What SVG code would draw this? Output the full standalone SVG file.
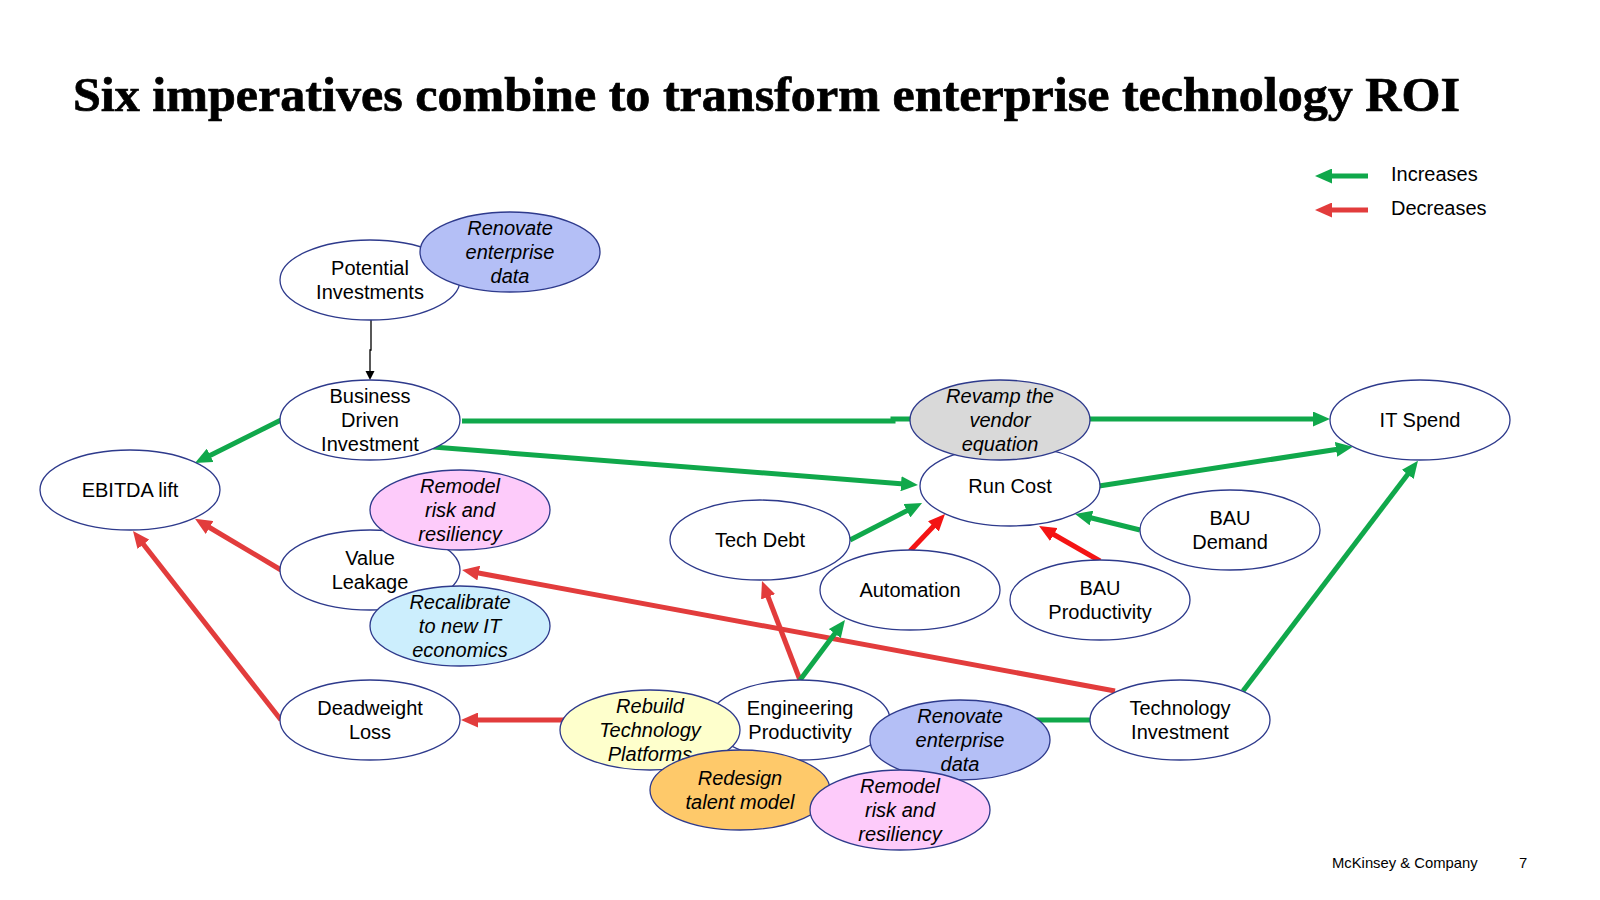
<svg xmlns="http://www.w3.org/2000/svg" width="1600" height="900" viewBox="0 0 1600 900">
<style>
.n{stroke:#2E3A8C;stroke-width:1.3;fill:#fff}
.t{font-family:"Liberation Sans",Arial,sans-serif;font-size:20px;fill:#000;text-anchor:middle}
.i{font-style:italic}
.g{stroke:#10A84B;stroke-width:5;fill:none;marker-end:url(#ag)}
.r{stroke:#E23C3C;stroke-width:5;fill:none;marker-end:url(#ar)}
.rb{stroke:#F41414;stroke-width:5;fill:none;marker-end:url(#arb)}
.blue{fill:#B4BFF6}.pink{fill:#FDCBFA}.lb{fill:#CCEEFD}.yel{fill:#FEFFCC}.org{fill:#FEC96A}.gray{fill:#D9D9D9}
</style>
<defs>
<marker id="ag" viewBox="0 0 17 15" refX="3" refY="7.5" markerUnits="userSpaceOnUse" markerWidth="17" markerHeight="15" orient="auto"><path d="M0,0 L17,7.5 L0,15 z" fill="#10A84B"/></marker>
<marker id="ar" viewBox="0 0 17 15" refX="3" refY="7.5" markerUnits="userSpaceOnUse" markerWidth="17" markerHeight="15" orient="auto"><path d="M0,0 L17,7.5 L0,15 z" fill="#E23C3C"/></marker>
<marker id="arb" viewBox="0 0 17 15" refX="3" refY="7.5" markerUnits="userSpaceOnUse" markerWidth="17" markerHeight="15" orient="auto"><path d="M0,0 L17,7.5 L0,15 z" fill="#F41414"/></marker>
<marker id="ak" viewBox="0 0 10 10" refX="0" refY="5" markerUnits="userSpaceOnUse" markerWidth="9" markerHeight="10" orient="auto"><path d="M0,0 L10,5 L0,10 z" fill="#000"/></marker>
</defs>
<rect width="1600" height="900" fill="#fff"/>
<text x="73" y="111" font-family="'Liberation Serif','Times New Roman',serif" font-weight="bold" font-size="49" stroke="#000" stroke-width="0.7" textLength="1387" lengthAdjust="spacingAndGlyphs">Six imperatives combine to transform enterprise technology ROI</text>

<g id="legend">
<path d="M1368,176 H1329" class="g"/>
<path d="M1368,210 H1329" class="r"/>
<text x="1391" y="181" class="t" style="text-anchor:start">Increases</text>
<text x="1391" y="215" class="t" style="text-anchor:start">Decreases</text>
</g>

<g id="connectors">
<path d="M371,320 V350 H370 V371" stroke="#000" stroke-width="1.3" fill="none" marker-end="url(#ak)"/>
<path d="M281,420 L207.5,456.7" class="g"/>
<path d="M462,421 H893 V419 H1316" class="g"/>
<path d="M433,447 L904,484" class="g"/>
<path d="M1099,486 L1339,449" class="g"/>
<path d="M850,540 L909.6,509.4" class="g"/>
<path d="M910,551 L935.4,524.2" class="rb"/>
<path d="M1100,561 L1051.2,533" class="rb"/>
<path d="M1140,530 L1088.6,517.3" class="g"/>
<path d="M1243,691 L1409.5,472" class="g"/>
<path d="M1115,691 L475.8,572.5" class="r"/>
<path d="M281,570 L207,526" class="r"/>
<path d="M281,720 L141.6,542" class="r"/>
<path d="M800,680 L767,594" class="r"/>
<path d="M800,680 L836.6,631.2" class="g"/>
<path d="M720,720 H475" class="r"/>
<path d="M1090,720 H904" class="g"/>
</g>

<g id="potential-investments"><ellipse class="n" cx="370" cy="280" rx="90" ry="40"/><text class="t" x="370" y="275">Potential</text><text class="t" x="370" y="299">Investments</text></g>
<g id="renovate-data-top"><ellipse class="n blue" cx="510" cy="252" rx="90" ry="40"/><text class="t i" x="510" y="235">Renovate</text><text class="t i" x="510" y="259">enterprise</text><text class="t i" x="510" y="283">data</text></g>
<g id="business-driven-investment"><ellipse class="n" cx="370" cy="420" rx="90" ry="40"/><text class="t" x="370" y="403">Business</text><text class="t" x="370" y="427">Driven</text><text class="t" x="370" y="451">Investment</text></g>
<g id="ebitda-lift"><ellipse class="n" cx="130" cy="490" rx="90" ry="40"/><text class="t" x="130" y="497">EBITDA lift</text></g>
<g id="value-leakage"><ellipse class="n" cx="370" cy="570" rx="90" ry="40"/><text class="t" x="370" y="565">Value</text><text class="t" x="370" y="589">Leakage</text></g>
<g id="remodel-risk-top"><ellipse class="n pink" cx="460" cy="510" rx="90" ry="40"/><text class="t i" x="460" y="493">Remodel</text><text class="t i" x="460" y="517">risk and</text><text class="t i" x="460" y="541">resiliency</text></g>
<g id="recalibrate"><ellipse class="n lb" cx="460" cy="626" rx="90" ry="40"/><text class="t i" x="460" y="609">Recalibrate</text><text class="t i" x="460" y="633">to new IT</text><text class="t i" x="460" y="657">economics</text></g>
<g id="deadweight-loss"><ellipse class="n" cx="370" cy="720" rx="90" ry="40"/><text class="t" x="370" y="715">Deadweight</text><text class="t" x="370" y="739">Loss</text></g>
<g id="engineering-productivity"><ellipse class="n" cx="800" cy="720" rx="90" ry="40"/><text class="t" x="800" y="715">Engineering</text><text class="t" x="800" y="739">Productivity</text></g>
<g id="rebuild-platforms"><ellipse class="n yel" cx="650" cy="730" rx="90" ry="40"/><text class="t i" x="650" y="713">Rebuild</text><text class="t i" x="650" y="737">Technology</text><text class="t i" x="650" y="761">Platforms</text></g>
<g id="renovate-data-bottom"><ellipse class="n blue" cx="960" cy="740" rx="90" ry="40"/><text class="t i" x="960" y="723">Renovate</text><text class="t i" x="960" y="747">enterprise</text><text class="t i" x="960" y="771">data</text></g>
<g id="redesign-talent"><ellipse class="n org" cx="740" cy="790" rx="90" ry="40"/><text class="t i" x="740" y="785">Redesign</text><text class="t i" x="740" y="809">talent model</text></g>
<g id="remodel-risk-bottom"><ellipse class="n pink" cx="900" cy="810" rx="90" ry="40"/><text class="t i" x="900" y="793">Remodel</text><text class="t i" x="900" y="817">risk and</text><text class="t i" x="900" y="841">resiliency</text></g>
<g id="technology-investment"><ellipse class="n" cx="1180" cy="720" rx="90" ry="40"/><text class="t" x="1180" y="715">Technology</text><text class="t" x="1180" y="739">Investment</text></g>
<g id="tech-debt"><ellipse class="n" cx="760" cy="540" rx="90" ry="40"/><text class="t" x="760" y="547">Tech Debt</text></g>
<g id="automation"><ellipse class="n" cx="910" cy="590" rx="90" ry="40"/><text class="t" x="910" y="597">Automation</text></g>
<g id="run-cost"><ellipse class="n" cx="1010" cy="486" rx="90" ry="40"/><text class="t" x="1010" y="493">Run Cost</text></g>
<g id="revamp-vendor"><ellipse class="n gray" cx="1000" cy="420" rx="90" ry="40"/><text class="t i" x="1000" y="403">Revamp the</text><text class="t i" x="1000" y="427">vendor</text><text class="t i" x="1000" y="451">equation</text></g>
<g id="it-spend"><ellipse class="n" cx="1420" cy="420" rx="90" ry="40"/><text class="t" x="1420" y="427">IT Spend</text></g>
<g id="bau-demand"><ellipse class="n" cx="1230" cy="530" rx="90" ry="40"/><text class="t" x="1230" y="525">BAU</text><text class="t" x="1230" y="549">Demand</text></g>
<g id="bau-productivity"><ellipse class="n" cx="1100" cy="600" rx="90" ry="40"/><text class="t" x="1100" y="595">BAU</text><text class="t" x="1100" y="619">Productivity</text></g>

<g id="footer">
<text x="1332" y="868" font-family="'Liberation Sans',Arial,sans-serif" font-size="14.8">McKinsey &amp; Company</text>
<text x="1519" y="868" font-family="'Liberation Sans',Arial,sans-serif" font-size="14.8">7</text>
</g>
</svg>
